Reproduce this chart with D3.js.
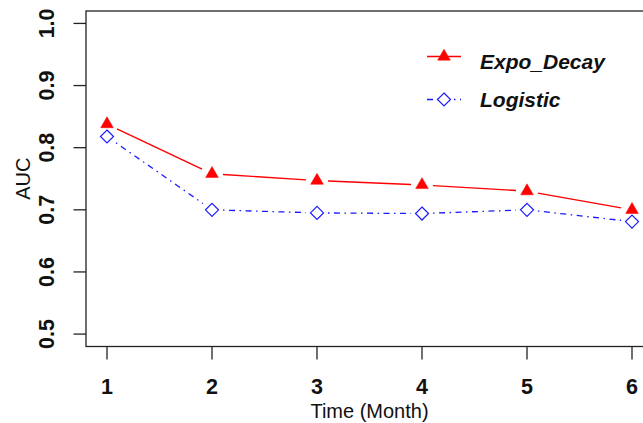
<!DOCTYPE html>
<html lang="en">
<head>
<meta charset="utf-8">
<title>AUC by month</title>
<style>
  body { margin: 0; background: #fff; }
  text { font-family: "Liberation Sans", Arial, sans-serif; fill: #111; }
  .tick-label { font-size: 21.5px; font-weight: bold; }
  .axis-title { font-size: 20px; }
  .legend-text { font-size: 21px; font-weight: bold; font-style: italic; }
</style>
</head>
<body>
<div id="chart"></div>
<script src="https://cdn.jsdelivr.net/npm/d3@7"></script>
<script>
// data
var months = [1, 2, 3, 4, 5, 6];
var expoDecay = [0.838, 0.758, 0.747, 0.740, 0.730, 0.700];
var logistic = [0.818, 0.700, 0.695, 0.694, 0.700, 0.681];
var yTicks = [0.5, 0.6, 0.7, 0.8, 0.9, 1.0];
var seriesNames = ["Expo_Decay", "Logistic"];

var width = 643, height = 423;

var svg = d3.select("#chart").append("svg")
    .attr("width", width)
    .attr("height", height);

// R style: 4% padding on each side of the data range
var x = d3.scaleLinear().domain([0.8, 6.2]).range([86, 653]);
var y = d3.scaleLinear().domain([0.48, 1.02]).range([346.5, 11]);

// box
svg.append("rect")
    .attr("x", x(0.8)).attr("y", y(1.02))
    .attr("width", x(6.2) - x(0.8)).attr("height", y(0.48) - y(1.02))
    .attr("fill", "none").attr("stroke", "#222").attr("stroke-width", 1.3);

// y axis ticks + rotated labels
svg.append("g").selectAll("line").data(yTicks).enter().append("line")
    .attr("x1", x(0.8) - 12.5).attr("x2", x(0.8))
    .attr("y1", d => y(d)).attr("y2", d => y(d))
    .attr("stroke", "#222").attr("stroke-width", 1.3);

svg.append("g").selectAll("text").data(yTicks).enter().append("text")
    .attr("class", "tick-label")
    .attr("transform", d => "translate(47," + y(d) + ") rotate(-90)")
    .attr("text-anchor", "middle")
    .attr("dominant-baseline", "central")
    .text(d => d3.format(".1f")(d));

// x axis ticks + labels
svg.append("g").selectAll("line").data(months).enter().append("line")
    .attr("x1", d => x(d)).attr("x2", d => x(d))
    .attr("y1", y(0.48)).attr("y2", y(0.48) + 13)
    .attr("stroke", "#222").attr("stroke-width", 1.3);

svg.append("g").selectAll("text").data(months).enter().append("text")
    .attr("class", "tick-label")
    .attr("x", d => x(d)).attr("y", 394)
    .attr("text-anchor", "middle")
    .text(d => d);

// axis titles
svg.append("text").attr("class", "axis-title")
    .attr("x", (x(0.8) + x(6.2)) / 2).attr("y", 418)
    .attr("text-anchor", "middle")
    .text("Time (Month)");

svg.append("text").attr("class", "axis-title")
    .attr("transform", "translate(23," + (y(0.48) + y(1.02)) / 2 + ") rotate(-90)")
    .attr("text-anchor", "middle")
    .attr("dominant-baseline", "central")
    .text("AUC");

// symbols, R pch 17 (filled triangle) and pch 5 (open diamond)
function triangle(r) {
  var top = 1.555 * r, half = 1.347 * r, base = 0.778 * r;
  return "M0," + (-top) + "L" + half + "," + base + "L" + (-half) + "," + base + "Z";
}
function diamond(h) {
  return "M0," + (-h) + "L" + h + ",0L0," + h + "L" + (-h) + ",0Z";
}

// type = "b": segments with a gap round each point
function gappedSegments(vals, gap) {
  var segs = [];
  for (var i = 0; i < vals.length - 1; i++) {
    var x1 = x(months[i]), y1 = y(vals[i]), x2 = x(months[i + 1]), y2 = y(vals[i + 1]);
    var len = Math.hypot(x2 - x1, y2 - y1);
    var ux = (x2 - x1) / len, uy = (y2 - y1) / len;
    segs.push([x1 + ux * gap, y1 + uy * gap, x2 - ux * gap, y2 - uy * gap]);
  }
  return segs;
}

var series = [
  { name: seriesNames[0], vals: expoDecay, color: "#ff0000", dash: null, sym: triangle(4.7), fill: "#ff0000", width: 1.4 },
  { name: seriesNames[1], vals: logistic, color: "#1a1aff", dash: "1.5,4.5,6,4.5", sym: diamond(6.5), fill: "none", width: 1.3 }
];

series.forEach(function(s) {
  svg.append("g").selectAll("line").data(gappedSegments(s.vals, 11)).enter().append("line")
      .attr("x1", d => d[0]).attr("y1", d => d[1])
      .attr("x2", d => d[2]).attr("y2", d => d[3])
      .attr("stroke", s.color).attr("stroke-width", s.width)
      .attr("stroke-dasharray", s.dash);

  svg.append("g").selectAll("path").data(s.vals).enter().append("path")
      .attr("transform", (d, i) => "translate(" + x(months[i]) + "," + y(d) + ")")
      .attr("d", s.sym)
      .attr("fill", s.fill)
      .attr("stroke", s.color)
      .attr("stroke-width", s.fill === "none" ? 1.2 : 0.5);
});

// legend (no box)
var legendRows = [
  { sym: 56.5, text: 68.5 },
  { sym: 99.5, text: 106.5 }
];
series.forEach(function(s, i) {
  var g = svg.append("g");
  g.append("line")
      .attr("x1", 427).attr("x2", 461)
      .attr("y1", legendRows[i].sym).attr("y2", legendRows[i].sym)
      .attr("stroke", s.color).attr("stroke-width", s.width)
      .attr("stroke-dasharray", s.dash ? "6,4.5,1.5,4.5" : null);
  g.append("path")
      .attr("transform", "translate(444," + legendRows[i].sym + ")")
      .attr("d", s.sym)
      .attr("fill", s.fill === "none" ? "#fff" : s.fill)
      .attr("stroke", s.color)
      .attr("stroke-width", s.fill === "none" ? 1.2 : 0.5);
  g.append("text").attr("class", "legend-text")
      .attr("x", 480).attr("y", legendRows[i].text)
      .text(s.name);
});
</script>
</body>
</html>
